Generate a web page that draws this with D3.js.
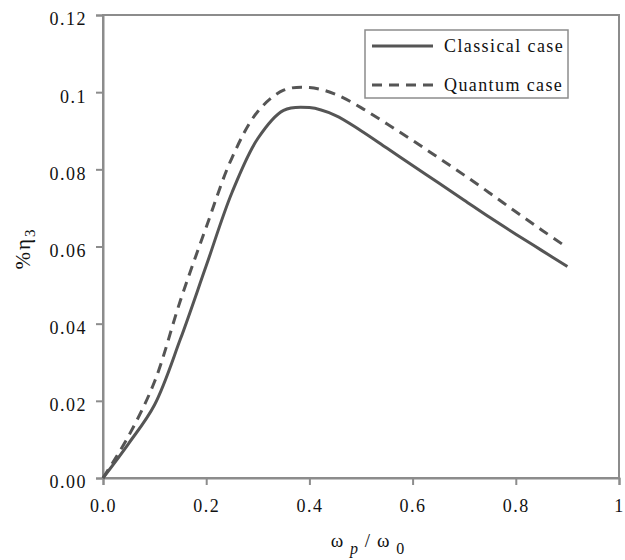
<!DOCTYPE html>
<html lang="en">
<head>
  <meta charset="UTF-8">
  <title>Efficiency vs frequency ratio</title>
  <script src="https://cdn.jsdelivr.net/npm/d3@7"></script>
  <style>
    body { margin: 0; background: #fff; }
    text { font-family: "Liberation Serif", "Times New Roman", serif; fill: #111; }
  </style>
</head>
<body>
<div id="chart"></div>
<script type="text/javascript">
  // values
  var xVals = [0, 0.05, 0.1, 0.15, 0.2, 0.25, 0.3, 0.35, 0.4, 0.45, 0.5, 0.55, 0.6, 0.65, 0.7, 0.75, 0.8, 0.85, 0.9];
  var classical = [0, 0.009, 0.019, 0.036, 0.055, 0.074, 0.088, 0.0953, 0.096, 0.094, 0.090, 0.0855, 0.081, 0.0765, 0.072, 0.0675, 0.0632, 0.059, 0.0548];
  var quantum = [0, 0.011, 0.025, 0.046, 0.065, 0.083, 0.095, 0.1005, 0.1012, 0.0995, 0.096, 0.0918, 0.0875, 0.083, 0.0785, 0.0738, 0.069, 0.0643, 0.0597];
  var xTicks = [0, 0.2, 0.4, 0.6, 0.8, 1];
  var xTickLabels = ["0.0", "0.2", "0.4", "0.6", "0.8", "1"];
  var yTicks = [0, 0.02, 0.04, 0.06, 0.08, 0.1, 0.12];
  var yTickLabels = ["0.00", "0.02", "0.04", "0.06", "0.08", "0.1", "0.12"];
  var seriesNames = ["Classical case", "Quantum case"];

  var W = 625, H = 560;
  var margin = {left: 103, right: 6, top: 15, bottom: 82};

  var svg = d3.select("#chart").append("svg")
    .attr("width", W)
    .attr("height", H);

  var x = d3.scaleLinear().domain([0, 1]).range([margin.left, W - margin.right]);
  var y = d3.scaleLinear().domain([0, 0.12]).range([H - margin.bottom, margin.top]);

  var axisColor = "#8c8c8c";

  // plot frame
  svg.append("rect")
    .attr("x", x(0))
    .attr("y", y(0.12))
    .attr("width", x(1) - x(0))
    .attr("height", y(0) - y(0.12))
    .attr("fill", "none")
    .attr("stroke", axisColor)
    .attr("stroke-width", 2);

  var xAxis = d3.axisBottom(x).tickValues(xTicks)
    .tickFormat(function(d, i) { return xTickLabels[i]; })
    .tickSize(7).tickPadding(14);
  var gx = svg.append("g").attr("transform", "translate(0," + y(0) + ")").call(xAxis);

  var yAxis = d3.axisLeft(y).tickValues(yTicks)
    .tickFormat(function(d, i) { return yTickLabels[i]; })
    .tickSize(7).tickPadding(9);
  var gy = svg.append("g").attr("transform", "translate(" + x(0) + ",0)").call(yAxis);

  [gx, gy].forEach(function(g) {
    g.select(".domain").attr("stroke", axisColor).attr("stroke-width", 2);
    g.selectAll(".tick line").attr("stroke", axisColor).attr("stroke-width", 2);
    g.selectAll(".tick text")
      .style("font-family", "Liberation Serif")
      .style("font-size", "18px")
      .style("letter-spacing", "1.5px")
      .attr("fill", "#111");
  });
  gy.selectAll(".tick text").attr("dy", "0.55em");

  var line = d3.line()
    .x(function(d) { return x(d[0]); })
    .y(function(d) { return y(d[1]); })
    .curve(d3.curveCatmullRom.alpha(0.5));

  svg.append("path")
    .datum(xVals.map(function(v, i) { return [v, classical[i]]; }))
    .attr("d", line)
    .attr("fill", "none")
    .attr("stroke", "#555")
    .attr("stroke-width", 3);

  svg.append("path")
    .datum(xVals.map(function(v, i) { return [v, quantum[i]]; }))
    .attr("d", line)
    .attr("fill", "none")
    .attr("stroke", "#555")
    .attr("stroke-width", 3)
    .attr("stroke-dasharray", "10,7");

  // legend
  var leg = svg.append("g");
  leg.append("rect")
    .attr("x", 365).attr("y", 30)
    .attr("width", 203).attr("height", 68)
    .attr("fill", "#fff")
    .attr("stroke", axisColor)
    .attr("stroke-width", 1.5);
  seriesNames.forEach(function(name, i) {
    var ly = 46 + i * 39;
    leg.append("line")
      .attr("x1", 372).attr("x2", 433)
      .attr("y1", ly).attr("y2", ly)
      .attr("stroke", "#555")
      .attr("stroke-width", 3)
      .attr("stroke-dasharray", i === 1 ? "10,7" : null);
    leg.append("text")
      .attr("x", 444).attr("y", ly + 6)
      .style("font-size", "18px")
      .style("letter-spacing", "1.4px")
      .text(name);
  });

  // y title
  var yt = svg.append("text")
    .attr("transform", "translate(30," + (y(0.06) + 2) + ") rotate(-90)")
    .attr("text-anchor", "middle")
    .style("font-size", "21px")
    .style("letter-spacing", "2px");
  yt.append("tspan").text("%\u03b7");
  yt.append("tspan").attr("dy", 5).style("font-size", "15px").text("3");

  // x title
  var xt = svg.append("text")
    .attr("x", 368).attr("y", 547)
    .attr("text-anchor", "middle")
    .style("font-size", "19px")
    .style("letter-spacing", "1px");
  xt.append("tspan").text("\u03c9 ");
  xt.append("tspan").attr("dy", 7).style("font-size", "16px").style("font-style", "italic").text("p");
  xt.append("tspan").attr("dy", -7).text(" / \u03c9 ");
  xt.append("tspan").attr("dy", 7).style("font-size", "16px").text("0");
</script>
</body>
</html>
